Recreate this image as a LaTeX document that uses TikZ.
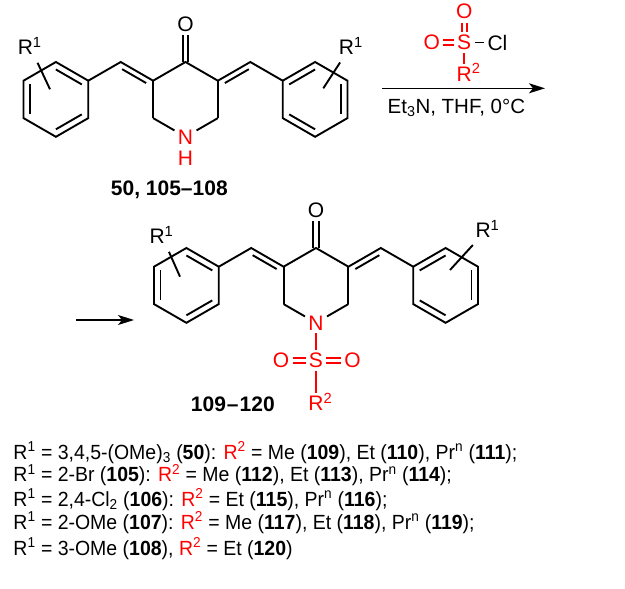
\documentclass[tikz,border=0pt]{standalone}
\usepackage{fontspec}
\setmainfont{Liberation Sans}
\newfontfamily\listfont{Liberation Sans}[FakeStretch=0.95]
\usetikzlibrary{calc,positioning,arrows.meta}
\tikzset{>={Stealth[length=16pt,width=10pt,inset=4pt]}}
\definecolor{hetred}{rgb}{1.0,0,0}
\tikzset{
  atom/.style={inner sep=2.5pt,font=\fontsize{21}{25}\selectfont},
  txt/.style={anchor=base west,inner sep=0pt,font=\fontsize{20.5}{24}\selectfont},
  listline/.style={txt,font=\fontsize{20.5}{24}\listfont},
  cpdlabel/.style={txt,font=\fontsize{21}{25}\selectfont\bfseries},
  subst/.style={shorten >=5pt}
}
% inner line of a ring double bond: ends, ring centre
\newcommand{\ringdbl}[3]{\draw ($(#3)!.8!(#1)$) -- ($(#3)!.8!(#2)$);}
% second line of an exocyclic double bond, drawn below it
\newcommand{\sidedbl}[2]{\draw ($(#1)!.13!(#2)!5.5pt!-90:(#2)$) -- ($(#2)!.13!(#1)!5.5pt!90:(#1)$);}
% bis(benzylidene)piperidinone frame: #1 name prefix, #2 carbonyl carbon
\newcommand{\dienone}[2]{%
  \begin{scope}[shift={#2}]
    \def\bl{37.4}  % bond length
    \def\bh{32.4}  % horizontal part
    \def\bv{18.7}  % vertical part
    \coordinate (#1c4) at (0,0);
    \coordinate (#1c3) at (-\bh,\bv);
    \coordinate (#1c5) at (\bh,\bv);
    \coordinate (#1c2) at (-\bh,3*\bv);
    \coordinate (#1c6) at (\bh,3*\bv);
    \coordinate (#1chl) at (-2*\bh,0);
    \coordinate (#1chr) at (2*\bh,0);
    \coordinate (#1lc) at (-4*\bh,2*\bv);
    \coordinate (#1rc) at (4*\bh,2*\bv);
    \foreach \i/\ang in {0/-30,1/-90,2/-150,3/150,4/90,5/30}
      \coordinate (#1l\i) at ($(#1lc)+(\ang:\bl)$);
    \foreach \i/\ang in {0/-150,1/-90,2/-30,3/30,4/90,5/150}
      \coordinate (#1r\i) at ($(#1rc)+(\ang:\bl)$);
    \draw (#1l0) -- (#1l1) -- (#1l2) -- (#1l3) -- (#1l4) -- (#1l5) -- cycle;
    \draw (#1r0) -- (#1r1) -- (#1r2) -- (#1r3) -- (#1r4) -- (#1r5) -- cycle;
    \draw (#1l0) -- (#1chl) -- (#1c3) -- (#1c4) -- (#1c5) -- (#1chr) -- (#1r0);
    \draw (#1c3) -- (#1c2);
    \draw (#1c5) -- (#1c6);
    \node[atom,text=hetred] (#1n) at (0,4*\bv) {N};
    \draw (#1c2) -- (#1n) -- (#1c6);
    \node[atom] (#1o) at (0,-2*\bv) {O};
    \draw ([xshift=-2.8pt]#1c4) -- ([xshift=-2.8pt]#1o.south);
    \draw ([xshift=2.8pt]#1c4) -- ([xshift=2.8pt]#1o.south);
    \ringdbl{#1l0}{#1l1}{#1lc}
    \ringdbl{#1l2}{#1l3}{#1lc}
    \ringdbl{#1l4}{#1l5}{#1lc}
    \ringdbl{#1r0}{#1r1}{#1rc}
    \ringdbl{#1r2}{#1r3}{#1rc}
    \ringdbl{#1r4}{#1r5}{#1rc}
    \sidedbl{#1chl}{#1c3}
    \sidedbl{#1c5}{#1chr}
  \end{scope}}

\begin{document}
\begin{tikzpicture}[x=1pt,y=-1pt,line width=1.9pt]
  \useasboundingbox (0,0) rectangle (625,589);

  % starting piperidinone
  \dienone{t}{(185.5,62)}
  \node[atom,text=hetred,below=0pt of tn] (th) {H};
  \node[atom] (tR1l) at (29.7,46) {R\textsuperscript{1}};
  \coordinate (tR1lb) at (50,89.3);
  \draw[subst] (tR1lb) -- (tR1l);
  \node[atom] (tR1r) at (350.8,46) {R\textsuperscript{1}};
  \coordinate (tR1rb) at (323.3,88.3);
  \draw[subst] (tR1rb) -- (tR1r);
  \node[cpdlabel] (tlab) at (110,195.7) {50, 105--108};

  % sulfonyl chloride
  \node[atom,text=hetred] (rs) at (464.2,42.5) {S};
  \node[atom,text=hetred] (rot) at ($(rs)+(0,-30.8)$) {O};
  \node[atom,text=hetred] (rol) at ($(rs)+(-32.5,0)$) {O};
  \node[atom] (rcl) at ($(rs)+(33.3,0)$) {Cl};
  \node[atom,text=hetred] (rr2) at ($(rs)+(0,31.7)$) {R\rlap{\smash{\textsuperscript{2}}}};
  \draw (rs) -- (rcl);
  \draw[hetred] (rs) -- (rr2);
  \draw[hetred] ([xshift=-2.5pt]rs.north) -- ([xshift=-2.5pt]rot.south);
  \draw[hetred] ([xshift=2.5pt]rs.north) -- ([xshift=2.5pt]rot.south);
  \draw[hetred] ([yshift=2.5pt]rol.east) -- ([yshift=2.5pt]rs.west);
  \draw[hetred] ([yshift=-2.5pt]rol.east) -- ([yshift=-2.5pt]rs.west);

  % arrows
  \coordinate (a1s) at (382,88.3);
  \coordinate (a1e) at (545,88.3);
  \draw[->,line width=1.4pt] (a1s) -- (a1e);
  \node[txt] (cond) at (386.7,113.3) {Et\textsubscript{3}N, THF, 0°C};
  \coordinate (a2s) at (76,320);
  \coordinate (a2e) at (134,320);
  \draw[->,line width=1.4pt] (a2s) -- (a2e);

  % sulfonamide product
  \dienone{b}{(316,248)}
  \node[atom] (bR1l) at (161.5,235) {R\textsuperscript{1}};
  \coordinate (bR1lb) at (180,276.7);
  \draw[subst] (bR1lb) -- (bR1l);
  \node[atom] (bR1r) at (487.5,229) {R\textsuperscript{1}};
  \coordinate (bR1rb) at (450,270);
  \draw[subst] (bR1rb) -- (bR1r);
  \node[atom,text=hetred] (bs) at ($(bn)+(0,37.7)$) {S};
  \node[atom,text=hetred] (bol) at ($(bs)+(-35,0)$) {O};
  \node[atom,text=hetred] (bor) at ($(bs)+(36.5,0)$) {O};
  \node[atom,text=hetred] (br2) at ($(bs)+(0,43)$) {R\rlap{\smash{\textsuperscript{2}}}};
  \draw[hetred] (bn) -- (bs) -- (br2);
  \draw[hetred] ([yshift=2.5pt]bol.east) -- ([yshift=2.5pt]bs.west);
  \draw[hetred] ([yshift=-2.5pt]bol.east) -- ([yshift=-2.5pt]bs.west);
  \draw[hetred] ([yshift=2.5pt]bs.east) -- ([yshift=2.5pt]bor.west);
  \draw[hetred] ([yshift=-2.5pt]bs.east) -- ([yshift=-2.5pt]bor.west);
  \node[cpdlabel] (blab) at (190,411.5) {109\kern1pt--\kern1pt120};

  % substituents
  \node[listline] (l1) at (12.5,459.3) {R\textsuperscript{1} = 3,4,5-(OMe)\textsubscript{3} (\textbf{50}): \textcolor{hetred}{R\textsuperscript{2}} = Me (\textbf{109}), Et (\textbf{110}), Pr\textsuperscript{n} (\textbf{111});};
  \node[listline] (l2) at (12.5,481.7) {R\textsuperscript{1} = 2-Br (\textbf{105}): \textcolor{hetred}{R\textsuperscript{2}} = Me (\textbf{112}), Et (\textbf{113}), Pr\textsuperscript{n} (\textbf{114});};
  \node[listline] (l3) at (12.5,506) {R\textsuperscript{1} = 2,4-Cl\textsubscript{2} (\textbf{106}): \textcolor{hetred}{R\textsuperscript{2}} = Et (\textbf{115}), Pr\textsuperscript{n} (\textbf{116});};
  \node[listline] (l4) at (12.5,529.3) {R\textsuperscript{1} = 2-OMe (\textbf{107}): \textcolor{hetred}{R\textsuperscript{2}} = Me (\textbf{117}), Et (\textbf{118}), Pr\textsuperscript{n} (\textbf{119});};
  \node[listline] (l5) at (12.5,555) {R\textsuperscript{1} = 3-OMe (\textbf{108}), \textcolor{hetred}{R\textsuperscript{2}} = Et (\textbf{120})};
\end{tikzpicture}
\end{document}
